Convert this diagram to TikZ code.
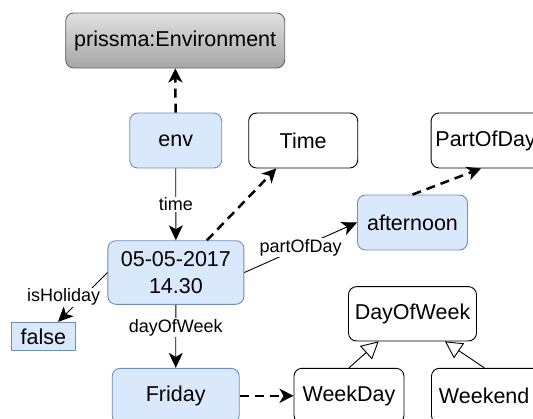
\documentclass[tikz,border=0pt]{standalone}
\usepackage{fontspec}
\setmainfont{Liberation Sans}
\usetikzlibrary{arrows.meta}

\definecolor{instfill}{HTML}{DAE8FC}
\definecolor{instline}{HTML}{6C8EBF}

\begin{document}
\begin{tikzpicture}
	[
		x=1pt, y=-1pt,
		inst/.style={draw=instline, fill=instfill, line width=0.9pt, rounded corners=8pt, align=center, minimum height=55pt, inner sep=2pt, font=\fontsize{21.5}{27}\selectfont},
		cls/.style={draw, fill=white, line width=0.9pt, rounded corners=8pt, align=center, minimum height=55pt, inner sep=2pt, font=\fontsize{21.5}{27}\selectfont},
		lbl/.style={fill=white, inner sep=1pt, font=\fontsize{18}{20}\selectfont},
		typeof/.style={line width=2.5pt, dash pattern=on 9pt off 6pt, -{Stealth[length=14pt, width=14pt, inset=4pt]}},
		prop/.style={line width=0.9pt, -{Stealth[length=15pt, width=14pt, inset=4pt]}},
		subcls/.style={line width=0.9pt, -{Triangle[open, length=17pt, width=18pt]}}
	]

	\useasboundingbox (0,0) rectangle (533,418);

		\path (175.2,40.5) node
		[cls, minimum width=219pt, draw=black!60, top color=black!12, bottom color=black!35]
		(prissma)
		{prissma:Environment};

		\path (175.7,140.5) node
		[inst, minimum width=92pt]
		(env)
		{env};

		\path (303.2,140.5) node
		[cls, minimum width=109pt]
		(time)
		{Time};

		\path (430.7,140.5) node
		[cls, anchor=west, text width=110pt, align=left, inner xsep=4.3pt]
		(pod)
		{PartOfDay};

		\path (412.5,222.5) node
		[inst, minimum width=110pt]
		(aft)
		{afternoon};

		\path (175.9,272.5) node
		[inst, minimum width=136pt, minimum height=63.6pt]
		(dt)
		{05-05-2017\\14.30};

		\path (43.3,336.5) node
		[inst, rounded corners=0pt, minimum width=64pt, minimum height=28.4pt]
		(fls)
		{false};

		\path (412.5,313.8) node
		[cls, minimum width=128pt, minimum height=54.3pt]
		(dow)
		{DayOfWeek};

		\path (175.7,395.8) node
		[inst, minimum width=127pt]
		(fri)
		{Friday};

		\path (349,395.8) node
		[cls, minimum width=110pt]
		(wd)
		{WeekDay};

		\path (431,395.8) node
		[cls, anchor=west, text width=110pt, align=left, inner xsep=7.5pt]
		(we)
		{Weekend};

		\path
		[typeof]
		(env)           edge (prissma)
		(dt)            edge (time)
		(aft.north)     edge ([xshift=50.3pt]pod.south west)
		(fri)           edge (wd);

		\path
		[prop]
		(env)           edge node[lbl] {time} (dt)
		(dt.east)       edge node[lbl] {partOfDay} (aft.west)
		(dt.west)       edge node[lbl, xshift=-19pt] {isHoliday} ([xshift=-17.7pt]fls.north east)
		(dt)            edge node[lbl, pos=0.36] {dayOfWeek} (fri);

		\path
		[subcls]
		(wd.north)                      edge ([xshift=30.6pt]dow.south west)
		([xshift=53.4pt]we.north west)  edge ([xshift=96.9pt]dow.south west);

\end{tikzpicture}
\end{document}
